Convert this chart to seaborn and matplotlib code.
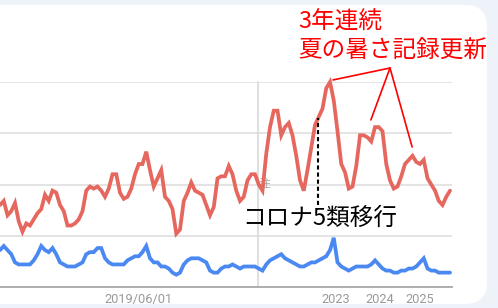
import numpy as np
import pandas as pd
import matplotlib
matplotlib.use("Agg")
import matplotlib.pyplot as plt
from matplotlib.patches import FancyBboxPatch
import seaborn as sns

# ---- data (Google Trends style, monthly index, 0-100) ----
red_values = [40, 42, 35, 37, 41, 32, 27, 31, 30, 33, 36, 38, 45, 42, 47, 46, 40, 37, 30, 30,
              31, 33, 37, 47, 49, 48, 49, 47, 44, 48, 55, 55, 46, 43, 44, 48, 55, 60, 60, 66,
              57, 49, 53, 57, 44, 42, 38, 26, 28, 42, 46, 51, 47, 46, 45, 40, 35, 39, 53, 54,
              54, 59, 55, 47, 42, 44, 52, 55, 55, 50, 47, 65, 78, 86, 86, 74, 78, 80, 74, 64,
              52, 47, 57, 68, 79, 83, 87, 97, 100, 91, 76, 60, 56, 48, 49, 59, 74, 74, 73, 71,
              78, 78, 76, 60, 52, 48, 49, 54, 60, 62, 64, 61, 60, 62, 53, 50, 47, 42, 40, 44,
              47]
blue_values = [18, 20, 18, 16, 12, 11, 11, 11, 11, 13, 16, 20, 18, 17, 19, 16, 12, 11, 10, 10,
               10, 11, 12, 16, 17, 17, 19, 19, 14, 12, 11, 11, 11, 11, 13, 14, 15, 15, 17, 20,
               14, 12, 12, 10, 10, 9, 7, 6, 7, 11, 13, 14, 14, 14, 13, 12, 8, 7, 7, 9,
               10, 10, 11, 10, 9, 10, 10, 10, 10, 9, 8, 11, 13, 14, 15, 16, 14, 13, 12, 11,
               10, 10, 11, 12, 12, 13, 14, 15, 18, 24, 12, 10, 9, 8, 9, 10, 10, 10, 10, 11,
               13, 11, 9, 8, 8, 7, 7, 8, 8, 9, 9, 10, 12, 14, 9, 8, 8, 7, 7, 7,
               7]
series_names = ["red", "blue"]
tick_labels = ["2019/06/01", "2023", "2024", "2025"]
tick_pos = [36.8, 89.6, 101.3, 112.0]
y_grid = [0, 25, 50, 75, 100]

n = len(red_values)
df = pd.DataFrame({
    "idx": list(range(n)) * 2,
    "value": red_values + blue_values,
    "series": [series_names[0]] * n + [series_names[1]] * len(blue_values),
})

sns.set_theme(style="white")
plt.rcParams["font.family"] = ["Noto Sans CJK JP", "DejaVu Sans"]

W, H = 498, 308
fig = plt.figure(figsize=(W / 100, H / 100), dpi=100, facecolor="#eef2f9")

# white card with rounded corner
card = FancyBboxPatch((-0.3, 0.04), 4.87 + 0.3, 2.99,
                      boxstyle="round,pad=0,rounding_size=0.22",
                      transform=fig.dpi_scale_trans, facecolor="white",
                      edgecolor="none", zorder=0)
fig.add_artist(card)

ax = fig.add_axes([0, 21 / H, 452 / W, 205 / H])
ax.set_facecolor("none")

# note line (data improvement) and its label
ax.axvline(68.8, color="#dcdcdc", lw=1.3, zorder=1)
ax.text(70.6, 50.5, "注", color="#aaaaaa", fontsize=8.5, ha="center", va="center", zorder=1)

sns.lineplot(data=df, x="idx", y="value", hue="series",
             palette={"red": "#e5675e", "blue": "#4a88f2"},
             linewidth=2.7, legend=False, ax=ax, zorder=3)
for ln in ax.lines:
    ln.set_clip_on(False)
    ln.set_solid_joinstyle("miter")

ax.set_xlim(0, 120.53)
ax.set_ylim(0, 100)
ax.set_yticks(y_grid)
ax.yaxis.grid(True, color="#e2e2e2", lw=1.3)
ax.xaxis.grid(False)
ax.tick_params(left=False, labelleft=False, bottom=False, length=0, pad=4)
ax.set_xticks(tick_pos)
ax.set_xticklabels(tick_labels, fontsize=9.2, color="#9a9a9a", fontfamily="Roboto")
ax.set_xlabel("")
ax.set_ylabel("")
for s in ["top", "right", "left"]:
    ax.spines[s].set_visible(False)
ax.spines["bottom"].set_color("#a8a8a8")
ax.spines["bottom"].set_linewidth(1.3)

# COVID class-5 dashed marker
ax.vlines(84.8, 40.0, 82.4, colors="black", linestyles=(0, (2.0, 1.4)), lw=1.5, zorder=4)

def fx(x):
    return x / W

def fy(y):
    return 1 - y / H

fig.text(fx(298), fy(22), "3年連続", color="#ff0000", fontsize=17, ha="left", va="center")
fig.text(fx(298), fy(51), "夏の暑さ記録更新", color="#ff0000", fontsize=17, ha="left", va="center")
fig.text(fx(242), fy(218), "コロナ5類移行", color="black", fontsize=17, ha="left", va="center")

apex = (390, H - 68)
for tx, tv in [(88.8, 101.0), (98.9, 81.5), (109.9, 68.3)]:
    ax.annotate("", xy=(tx, tv), xycoords="data", xytext=apex, textcoords="figure pixels",
                arrowprops=dict(arrowstyle="-", color="#ff0000", lw=1.2, shrinkA=0, shrinkB=0),
                annotation_clip=False)

fig.savefig("out.png", dpi=100, facecolor=fig.get_facecolor())
